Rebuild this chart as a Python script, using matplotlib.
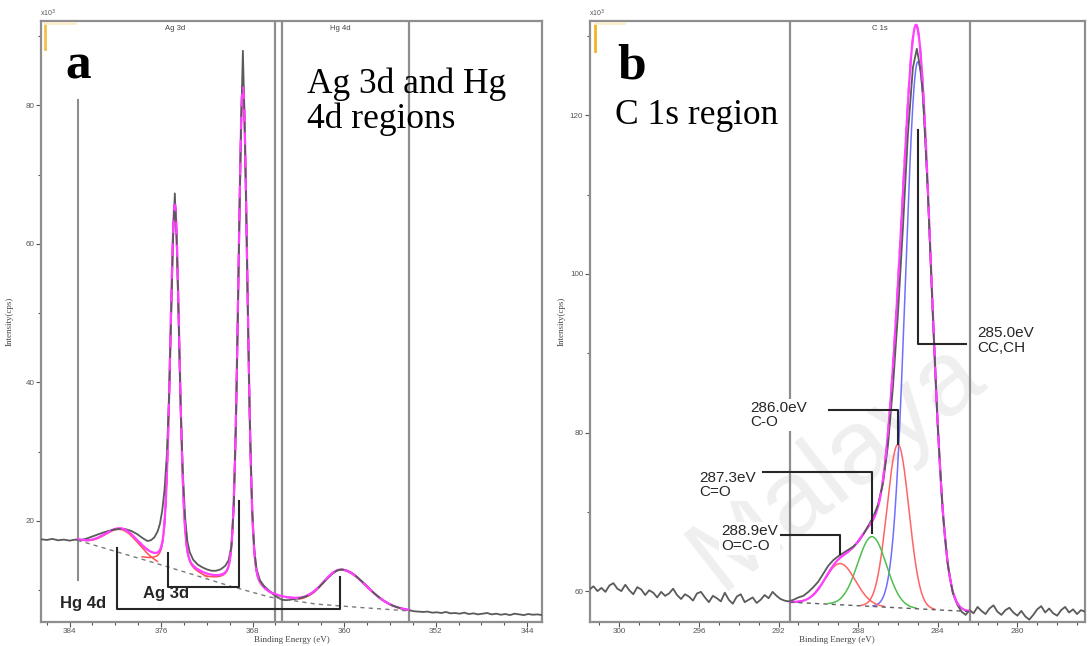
import numpy as np
import matplotlib
matplotlib.use("Agg")
import matplotlib.pyplot as plt
from matplotlib.ticker import MultipleLocator

# ---------------- panel (a): Ag 3d and Hg 4d regions ----------------
a_energy = [386.5, 386.0, 385.5, 385.0, 384.5, 384.0, 383.5, 383.1, 382.6, 382.1,
            381.6, 381.1, 380.6, 380.1, 379.6, 379.1, 378.6, 378.1, 377.6, 377.2,
            376.9, 376.6, 376.3, 376.1, 375.9, 375.7, 375.5, 375.3, 375.1, 374.95,
            374.8, 374.65, 374.5, 374.3, 374.1, 373.9, 373.7, 373.5, 373.2, 372.8,
            372.4, 372.0, 371.6, 371.2, 370.8, 370.4, 370.1, 369.85, 369.65, 369.45,
            369.3, 369.15, 369.0, 368.85, 368.7, 368.55, 368.4, 368.25, 368.05, 367.85,
            367.65, 367.35, 367.0, 366.6, 366.2, 365.8, 365.4, 365.0, 364.6, 364.2,
            363.8, 363.4, 363.0, 362.6, 362.2, 361.8, 361.4, 361.0, 360.6, 360.2,
            359.8, 359.4, 359.0, 358.6, 358.2, 357.8, 357.4, 357.0, 356.6, 356.2,
            355.8, 355.4, 355.0, 354.6, 354.3, 353.9, 353.5, 353.1, 352.7, 352.3,
            351.9, 351.5, 351.1, 350.7, 350.3, 349.9, 349.5, 349.1, 348.7, 348.3,
            347.9, 347.5, 347.1, 346.7, 346.3, 345.9, 345.5, 345.1, 344.7, 344.3,
            343.9, 343.5, 343.1, 342.7]
a_counts = [17.35, 17.25, 17.40, 17.20, 17.30, 17.15, 17.30, 17.20, 17.40, 17.70,
            18.00, 18.30, 18.55, 18.75, 18.85, 18.80, 18.55, 18.10, 17.50, 17.10,
            17.20, 17.60, 18.50, 19.60, 21.50, 24.50, 29.50, 38.00, 51.00, 61.00,
            67.30, 61.00, 51.50, 37.00, 27.00, 20.50, 17.00, 15.50, 14.40, 13.70,
            13.30, 13.00, 12.80, 12.80, 13.00, 13.50, 14.30, 16.30, 22.00, 34.50,
            48.50, 64.00, 77.50, 87.90, 77.50, 64.00, 48.50, 35.00, 22.00, 15.80,
            13.00, 11.40, 10.60, 10.00, 9.40, 8.95, 8.60, 8.55, 8.65, 8.75,
            8.85, 9.05, 9.35, 9.80, 10.40, 11.10, 11.80, 12.40, 12.85, 13.00,
            12.85, 12.55, 12.10, 11.50, 10.90, 10.25, 9.60, 9.05, 8.55, 8.15,
            7.80, 7.55, 7.35, 7.20, 7.10, 6.95, 6.90, 6.85, 6.90, 6.75,
            6.80, 6.70, 6.85, 6.65, 6.70, 6.60, 6.75, 6.55, 6.65, 6.50,
            6.60, 6.70, 6.50, 6.60, 6.45, 6.55, 6.40, 6.60, 6.50, 6.40,
            6.55, 6.45, 6.50, 6.40]

# Shirley-type background under the fitted region
a_bg_energy = [383.3, 380.0, 376.5, 373.5, 370.0, 366.5, 362.5, 358.6, 354.3]
a_bg_counts = [17.2, 15.6, 13.9, 12.4, 10.6, 9.0, 8.0, 7.5, 7.0]

# fitted components: Hg 4d3/2, Ag 3d3/2, Ag 3d5/2, Hg 4d5/2
a_center = [379.4, 374.8, 368.85, 360.2]
a_height = [3.4, 52.5, 72.8, 5.2]
a_fwhm_hi = [3.4, 0.95, 0.95, 3.8]
a_fwhm_lo = [3.4, 0.95, 0.95, 5.0]
a_lorentz = [0.0, 0.25, 0.25, 0.0]

# ---------------- panel (b): C 1s region ----------------
b_energy = [301.5, 301.3, 301.1, 300.9, 300.7, 300.5, 300.3, 300.1, 299.9, 299.7,
            299.5, 299.3, 299.1, 298.9, 298.7, 298.5, 298.3, 298.1, 297.9, 297.7,
            297.5, 297.3, 297.1, 296.9, 296.7, 296.5, 296.3, 296.1, 295.9, 295.7,
            295.5, 295.3, 295.1, 294.9, 294.7, 294.5, 294.3, 294.1, 293.9, 293.7,
            293.5, 293.3, 293.1, 292.9, 292.7, 292.5, 292.3, 292.1, 291.9, 291.7,
            291.5, 291.25, 291.0, 290.75, 290.5, 290.25, 290.0, 289.75, 289.5, 289.25,
            289.0, 288.75, 288.5, 288.25, 288.0, 287.75, 287.5, 287.25, 287.0, 286.75,
            286.5, 286.25, 286.0, 285.75, 285.5, 285.25, 285.05, 284.85, 284.75, 284.5,
            284.25, 284.0, 283.75, 283.5, 283.25, 283.0, 282.8, 282.6, 282.4, 282.2,
            282.0, 281.8, 281.6, 281.4, 281.2, 281.0, 280.8, 280.6, 280.4, 280.2,
            280.0, 279.8, 279.6, 279.4, 279.2, 279.0, 278.8, 278.6, 278.4, 278.2,
            278.0, 277.8, 277.6, 277.4, 277.2, 277.0, 276.8, 276.6]
b_counts = [60.2, 60.6, 60.0, 60.4, 59.9, 60.7, 61.0, 60.3, 60.0, 60.8,
            60.1, 59.6, 60.5, 60.2, 59.5, 60.1, 59.8, 59.2, 59.9, 59.4,
            59.7, 60.3, 59.5, 59.0, 59.6, 59.3, 58.8, 59.7, 59.9, 59.2,
            58.6, 59.4, 59.1, 58.7, 59.8, 58.9, 58.4, 59.3, 59.6, 58.6,
            58.9, 59.2, 58.5, 58.9, 59.5, 59.1, 59.9, 59.4, 59.0, 58.8,
            58.7, 58.9, 59.2, 59.4, 59.9, 60.5, 61.2, 62.2, 63.2, 63.9,
            64.4, 64.8, 65.2, 65.6, 66.2, 67.1, 68.2, 69.3, 70.9, 73.6,
            78.4, 85.8, 95.0, 105.8, 117.6, 126.0, 128.4, 125.5, 122.8, 110.5,
            95.0, 80.8, 70.0, 63.4, 59.8, 58.2, 57.4, 57.0, 57.6, 57.2,
            58.0, 57.5, 57.1, 57.8, 58.2, 57.4, 57.0, 57.6, 57.9, 57.3,
            56.9, 57.5, 56.8, 56.4, 57.0, 57.7, 58.1, 57.3, 57.8, 57.2,
            56.9, 57.6, 58.0, 57.3, 57.7, 57.1, 57.6, 57.4]

b_bg_energy = [291.42, 282.38]
b_bg_counts = [58.6, 57.42]

b_labels = ["285.0eV\nCC,CH", "286.0eV\nC-O", "287.3eV\nC=O", "288.9eV\nO=C-O"]
b_center = [285.0, 286.0, 287.3, 288.9]
b_height = [69.0, 20.6, 8.8, 5.2]
b_fwhm_hi = [1.45, 1.3, 1.7, 1.8]
b_fwhm_lo = [1.6, 1.3, 1.7, 1.8]
b_colors = ["#6f6fff", "#ff6464", "#4fbf4f", "#ff6464"]

W, H = 1088, 646
fig = plt.figure(figsize=(W / 100, H / 100), dpi=100)
SERIF = ["Liberation Serif", "DejaVu Serif"]
SANS = ["Liberation Sans", "DejaVu Sans"]
plt.rcParams["font.family"] = SANS

FRAME = "#8e8e8e"
DATA = "#5a5a5a"
ENV = "#ff40ff"
INK = "#262626"


def px_axes(x0, x1, y0, y1):
    return fig.add_axes([x0 / W, 1 - y1 / H, (x1 - x0) / W, (y1 - y0) / H])


def peak(e, c, h, w_hi, w_lo, eta=0.0):
    w = np.where(e >= c, w_hi, w_lo)
    d2 = (e - c) ** 2 / w ** 2
    return h * ((1 - eta) * np.exp(-4 * np.log(2) * d2) + eta / (1 + 4 * d2))


def style(ax, xlim, ylim, xmaj, xmin, ymaj, ymin):
    ax.set_xlim(*xlim)
    ax.set_ylim(*ylim)
    ax.xaxis.set_major_locator(MultipleLocator(xmaj))
    ax.xaxis.set_minor_locator(MultipleLocator(xmin))
    ax.yaxis.set_major_locator(MultipleLocator(ymaj))
    ax.yaxis.set_minor_locator(MultipleLocator(ymin))
    for s in ax.spines.values():
        s.set_color(FRAME)
        s.set_linewidth(1.6)
    ax.tick_params(which="both", direction="out", color="#555555",
                   labelcolor="#555555", labelsize=5.8, width=0.8, pad=1)
    ax.tick_params(which="major", length=3.5)
    ax.tick_params(which="minor", length=2.5)
    ax.set_xlabel("Binding Energy (eV)", family=SERIF, fontsize=6.5, color="#444444")
    ax.xaxis.set_label_coords(0.5, -0.0225)
    ax.set_ylabel("Intensity(cps)", family=SERIF, fontsize=6.5, color="#444444")
    ax.text(-0.002, 1.004, "x10$^3$", transform=ax.transAxes, fontsize=5,
            color="#555555", ha="left", va="bottom")


def draw_spectrum(ax, e_fit, comps, colors, bg, e_data, y_data, thr):
    for comp, col in zip(comps, colors):
        shown = np.where(comp > thr, bg + comp, np.nan)
        ax.plot(e_fit, shown, color=col, lw=1.1, zorder=3)
    env = bg + np.sum(comps, axis=0)
    ax.plot(e_fit, env, color=ENV, lw=1.6, zorder=4)
    ax.plot(e_data, y_data, color=DATA, lw=1.3, zorder=5)
    ax.plot(e_fit, env, color=ENV, lw=1.5, dashes=(6, 5), zorder=6)


# ---------------- panel (a) ----------------
ax_a = px_axes(41, 542, 21, 622)
style(ax_a, (386.5, 342.7), (5.4, 92.2), 8, 2, 20, 10)
ax_a.yaxis.set_label_coords(-0.054, 0.5)

e_fit_a = np.linspace(a_bg_energy[0], a_bg_energy[-1], 2000)
bg_a = np.interp(e_fit_a[::-1], a_bg_energy[::-1], a_bg_counts[::-1])[::-1]
comps_a = [peak(e_fit_a, c, h, wh, wl, eta) for c, h, wh, wl, eta in
           zip(a_center, a_height, a_fwhm_hi, a_fwhm_lo, a_lorentz)]
draw_spectrum(ax_a, e_fit_a, comps_a, ["#ff5050"] * 4, bg_a, a_energy, a_counts, 0.35)
ax_a.plot(a_bg_energy, a_bg_counts, color="#7a7a7a", lw=1.0, dashes=(3, 3), zorder=7)

# region boundaries
ax_a.axvline(383.3, ymin=0.07, ymax=0.869, color=FRAME, lw=1.5, zorder=2)
for x in (366.03, 365.42, 354.3):
    ax_a.axvline(x, color=FRAME, lw=1.6, zorder=2)
ax_a.text(374.8, 0.988, "Ag 3d", transform=ax_a.get_xaxis_transform(),
          fontsize=5.5, color="#444444", ha="center", va="center")
ax_a.text(360.35, 0.988, "Hg 4d", transform=ax_a.get_xaxis_transform(),
          fontsize=5.5, color="#444444", ha="center", va="center")

# peak assignment brackets
ax_a.plot([379.85, 379.85, 360.35, 360.35], [16.1, 7.3, 7.3, 11.9], color=INK, lw=1.5, zorder=8)
ax_a.plot([375.4, 375.4, 369.2, 369.2], [15.4, 10.5, 10.5, 22.9], color=INK, lw=1.5, zorder=8)
ax_a.text(382.8, 8.0, "Hg 4d", fontsize=12, fontweight="bold", color=INK,
          ha="center", va="center", zorder=9)
ax_a.text(375.6, 9.5, "Ag 3d", fontsize=12, fontweight="bold", color=INK,
          ha="center", va="center", zorder=9)

ax_a.text(0.048, 0.905, "a", transform=ax_a.transAxes, family=SERIF, fontsize=37,
          fontweight="bold", color="black", ha="left", va="baseline")
ax_a.text(0.530, 0.880, "Ag 3d and Hg", transform=ax_a.transAxes, family=SERIF,
          fontsize=25.5, color="black", ha="left", va="baseline")
ax_a.text(0.530, 0.822, "4d regions", transform=ax_a.transAxes, family=SERIF,
          fontsize=25.5, color="black", ha="left", va="baseline")
ax_a.plot([0.008, 0.008], [0.953, 0.997], transform=ax_a.transAxes,
          color="#f4c04a", lw=2, zorder=9)
ax_a.plot([0.008, 0.068], [0.997, 0.997], transform=ax_a.transAxes,
          color="#fbeccc", lw=2, zorder=9)

# ---------------- panel (b) ----------------
ax_b = px_axes(589.5, 1085, 21, 622)
style(ax_b, (301.5, 276.6), (56.1, 131.9), 4, 1, 20, 10)
ax_b.yaxis.set_label_coords(-0.049, 0.5)

ax_b.text(0.50, 0.26, "Malaya", transform=ax_b.transAxes, rotation=38,
          fontsize=76, color="#efefef", ha="center", va="center", zorder=0)

e_fit_b = np.linspace(b_bg_energy[0], b_bg_energy[-1], 1500)
bg_b = np.interp(e_fit_b[::-1], b_bg_energy[::-1], b_bg_counts[::-1])[::-1]
comps_b = [peak(e_fit_b, c, h, wh, wl) for c, h, wh, wl in
           zip(b_center, b_height, b_fwhm_hi, b_fwhm_lo)]
draw_spectrum(ax_b, e_fit_b, comps_b, b_colors, bg_b, b_energy, b_counts, 0.08)
ax_b.plot(b_bg_energy, b_bg_counts, color="#5f5f5f", lw=1.0, dashes=(3, 3), zorder=7)

for x in (291.42, 282.38):
    ax_b.axvline(x, color=FRAME, lw=1.6, zorder=2)
ax_b.text(286.9, 0.988, "C 1s", transform=ax_b.get_xaxis_transform(),
          fontsize=5.5, color="#444444", ha="center", va="center")

# component labels with leader lines
leaders = [
    ([285.0, 285.0, 282.6], [118.1, 91.2, 91.2], (282.0, 91.6)),
    ([289.46, 286.0, 286.0], [82.8, 82.8, 78.5], (293.4, 82.2)),
    ([292.78, 287.3, 287.3], [75.0, 75.0, 67.3], (296.0, 73.4)),
    ([294.5, 288.9, 288.9], [67.1, 67.1, 64.7], (294.9, 66.6)),
]
for (xs, ys, (tx, ty)), lab in zip(leaders, b_labels):
    ax_b.plot(xs, ys, color=INK, lw=1.5, zorder=8)
    ax_b.text(tx, ty, lab, fontsize=11, color=INK, ha="left", va="center",
              linespacing=1.05, zorder=9,
              bbox=dict(facecolor="white", edgecolor="none", pad=1.5))

ax_b.text(0.056, 0.905, "b", transform=ax_b.transAxes, family=SERIF, fontsize=37,
          fontweight="bold", color="black", ha="left", va="baseline")
ax_b.text(0.052, 0.828, "C 1s region", transform=ax_b.transAxes, family=SERIF,
          fontsize=25.5, color="black", ha="left", va="baseline")
ax_b.plot([0.012, 0.012], [0.95, 0.995], transform=ax_b.transAxes,
          color="#f2b420", lw=2, zorder=9)
ax_b.plot([0.012, 0.07], [0.997, 0.997], transform=ax_b.transAxes,
          color="#fbeccc", lw=2, zorder=9)

fig.savefig("out.png", dpi=100, facecolor="white")
